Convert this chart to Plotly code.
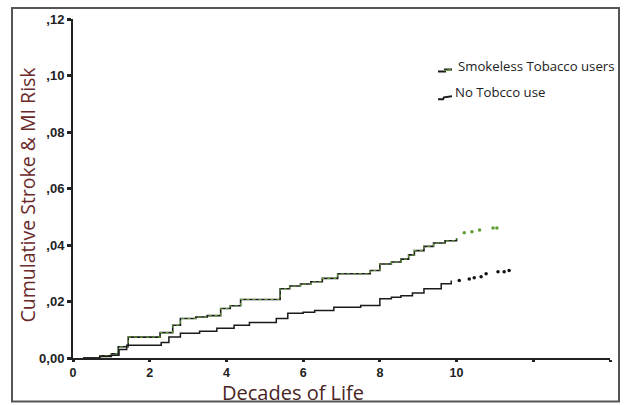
import plotly.graph_objects as go

# ---- data ----
smokeless_x = [0.26, 0.7, 1.0, 1.18, 1.44, 2.27, 2.6, 2.8, 3.2, 3.5, 3.85, 4.1, 4.37,
               5.4, 5.65, 5.93, 6.2, 6.5, 6.9, 7.5, 7.75, 8.0, 8.3, 8.55, 8.75, 8.9,
               9.15, 9.4, 9.7, 10.0]
smokeless_y = [0.0, 0.0008, 0.0015, 0.004, 0.0074, 0.009, 0.0116, 0.014, 0.0145, 0.015,
               0.0175, 0.0185, 0.0207, 0.0245, 0.0255, 0.0262, 0.027, 0.0282, 0.0298,
               0.0298, 0.031, 0.0333, 0.034, 0.035, 0.0365, 0.038, 0.0395, 0.0407,
               0.0415, 0.0425]
smokeless_dot_x = [10.2, 10.4, 10.6, 10.95, 11.05]
smokeless_dot_y = [0.0443, 0.0447, 0.0453, 0.046, 0.046]

none_x = [0.26, 0.7, 1.0, 1.2, 1.4, 2.3, 2.5, 2.8, 3.3, 3.75, 4.2, 4.6, 5.3, 5.6,
          6.0, 6.3, 6.8, 7.5, 8.0, 8.3, 8.55, 8.85, 9.15, 9.6, 9.86]
none_y = [0.0, 0.0005, 0.001, 0.003, 0.0045, 0.0055, 0.0074, 0.0088, 0.0095, 0.0105,
          0.0116, 0.0126, 0.014, 0.0158, 0.0162, 0.0168, 0.018, 0.0186, 0.021, 0.0215,
          0.022, 0.023, 0.0245, 0.0263, 0.0274]
none_dot_x = [10.07, 10.33, 10.46, 10.64, 10.77, 11.08, 11.24, 11.37]
none_dot_y = [0.0274, 0.028, 0.0284, 0.0288, 0.0298, 0.0305, 0.0305, 0.031]

x_tickvals = [0, 2, 4, 6, 8, 10, 12, 14]
x_ticktext = ["0", "2", "4", "6", "8", "10", "", ""]
y_tickvals = [0, 0.02, 0.04, 0.06, 0.08, 0.10, 0.12]
y_ticktext = ["0,00", ",02", ",04", ",06", ",08", ",10", ",12"]

legend_labels = ["Smokeless Tobacco users", "No Tobcco use"]
x_title = "Decades of Life"
y_title = "Cumulative Stroke & MI Risk"

# ---- layout geometry ----
W, H = 627, 405
ML, MR, MT, MB = 73, 17, 16, 47
PW, PH = W - ML - MR, H - MT - MB


def px(x):
    return (x - ML) / PW


def py(y):
    return (H - MB - y) / PH


GREEN = "#5f9e33"
fig = go.Figure()

# Smokeless: dark line with green overlay
fig.add_trace(go.Scatter(x=smokeless_x, y=smokeless_y, mode="lines", line_shape="hv",
                         line=dict(color="#1a1a1a", width=1.6), showlegend=False,
                         cliponaxis=False))
fig.add_trace(go.Scatter(x=smokeless_x, y=smokeless_y, mode="lines", line_shape="hv",
                         line=dict(color=GREEN, width=1.1, dash="dot"), showlegend=False,
                         cliponaxis=False))
fig.add_trace(go.Scatter(x=smokeless_dot_x, y=smokeless_dot_y, mode="markers",
                         marker=dict(color=GREEN, size=3.5), showlegend=False))

fig.add_trace(go.Scatter(x=none_x, y=none_y, mode="lines", line_shape="hv",
                         line=dict(color="#1a1a1a", width=1.5), showlegend=False,
                         cliponaxis=False))
fig.add_trace(go.Scatter(x=none_dot_x, y=none_dot_y, mode="markers",
                         marker=dict(color="#111111", size=3.5), showlegend=False))

tickfont = dict(family="Liberation Sans, Arial", size=12.5, color="#222222", weight="bold")

fig.update_layout(
    width=W, height=H,
    margin=dict(l=ML, r=MR, t=MT, b=MB),
    paper_bgcolor="white", plot_bgcolor="white",
    xaxis=dict(range=[0, 14], tickvals=x_tickvals, ticktext=x_ticktext,
               showgrid=False, zeroline=False, showline=True, linecolor="#222222",
               linewidth=2, ticks="outside", ticklen=2, tickwidth=3, tickcolor="#222222",
               tickfont=tickfont, fixedrange=True),
    yaxis=dict(range=[0, 0.12], tickvals=y_tickvals, ticktext=y_ticktext,
               showgrid=False, zeroline=False, showline=True, linecolor="#222222",
               linewidth=2, ticks="outside", ticklen=4, tickwidth=3, tickcolor="#222222",
               tickfont=dict(tickfont, size=13), fixedrange=True),
    shapes=[
        dict(type="rect", xref="paper", yref="paper",
             x0=px(12), x1=px(619), y0=py(402), y1=py(5),
             line=dict(color="#555555", width=2), layer="below"),
        # legend glyphs (small step lines)
        dict(type="path", xref="paper", yref="paper",
             path=f"M {px(438)},{py(69)} L {px(445)},{py(69)} L {px(445)},{py(67)} L {px(452)},{py(67)}",
             line=dict(color="#1a1a1a", width=2)),
        dict(type="path", xref="paper", yref="paper",
             path=f"M {px(444)},{py(68)} L {px(451)},{py(67)}",
             line=dict(color=GREEN, width=1.2)),
        dict(type="path", xref="paper", yref="paper",
             path=f"M {px(438)},{py(97)} L {px(443)},{py(97)} L {px(444)},{py(95)} L {px(452)},{py(94)}",
             line=dict(color="#1a1a1a", width=2)),
    ],
    annotations=[
        dict(text=y_title, xref="paper", yref="paper", x=px(27), y=py(193),
             textangle=-90, showarrow=False, xanchor="center", yanchor="middle",
             font=dict(family="Open Sans", size=19.5, color="#6a2a2a")),
        dict(text=x_title, xref="paper", yref="paper", x=px(293), y=py(392.5),
             showarrow=False, xanchor="center", yanchor="middle", borderpad=0,
             font=dict(family="Open Sans", size=20, color="#4a2424")),
        dict(text=legend_labels[0], xref="paper", yref="paper", x=px(456), y=py(63),
             showarrow=False, xanchor="left", yanchor="middle",
             font=dict(family="Open Sans", size=13.2, color="#222222")),
        dict(text=legend_labels[1], xref="paper", yref="paper", x=px(453), y=py(90),
             showarrow=False, xanchor="left", yanchor="middle",
             font=dict(family="Open Sans", size=13.2, color="#222222")),
    ],
)

fig.write_html("out.html", config={"displayModeBar": False},
               post_script="document.body.style.margin='0';document.body.style.padding='0';")
